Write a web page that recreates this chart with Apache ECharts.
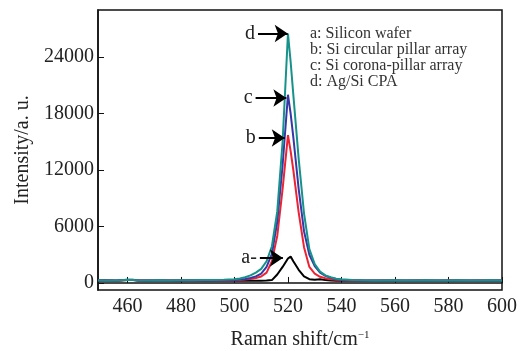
<!DOCTYPE html>
<html>
<head>
<meta charset="utf-8">
<script src="https://cdn.jsdelivr.net/npm/echarts@6/dist/echarts.min.js"></script>
<style>
  html, body { margin: 0; padding: 0; background: #fff; }
  #chart { width: 525px; height: 351px; }
</style>
</head>
<body>
<div id="chart"></div>
<script>
// Raman shift (cm^-1), shared by all four spectra
const shift = [449, 452, 456, 460, 462, 464, 468, 472, 476, 480, 484, 488, 492, 496, 500,
  502, 504, 506, 508, 510, 512, 514, 516, 518, 520, 521, 522, 524, 526, 528, 530, 532, 534, 536, 538, 540, 544,
  548, 552, 556, 560, 564, 568, 572, 576, 580, 584, 588, 592, 596, 600]

// a: Silicon wafer
const wafer = [260, 250, 240, 300, 330, 250, 240, 250, 230, 240, 250, 230, 240, 230, 220,
  230, 220, 230, 220, 230, 250, 300, 900, 1700, 2600, 2800, 2300, 1400, 700, 400, 330, 380, 300, 250, 220, 230, 240,
  230, 220, 230, 240, 230, 220, 240, 230, 230, 240, 220, 230, 240, 230]
// b: Si circular pillar array
const pillar = [250, 260, 240, 320, 300, 260, 250, 240, 260, 250, 240, 260, 250, 270, 290,
  320, 360, 420, 520, 680, 1100, 2300, 5000, 10000, 15700, 14000, 12000, 7500, 3800, 1700, 1000, 650, 500, 400, 340, 300, 270,
  250, 240, 260, 250, 240, 260, 250, 240, 250, 260, 240, 250, 260, 250]
// c: Si corona-pillar array
const corona = [260, 250, 250, 330, 310, 270, 250, 260, 250, 260, 250, 270, 260, 280, 320,
  360, 420, 520, 700, 1000, 1700, 3100, 6500, 12500, 20000, 18000, 15500, 10000, 5500, 3000, 1800, 1100, 750, 550, 420, 350, 290,
  260, 250, 270, 260, 250, 260, 270, 250, 260, 270, 250, 260, 270, 260]
// d: Ag/Si CPA
const agsi = [280, 270, 260, 340, 320, 290, 270, 280, 270, 280, 290, 300, 310, 340, 400,
  480, 600, 800, 1100, 1500, 2300, 3900, 7600, 15000, 26500, 23500, 20000, 13200, 7400, 3600, 2000, 1200, 800, 600, 450, 380, 320,
  280, 270, 260, 280, 270, 260, 280, 270, 260, 280, 270, 260, 280, 270]

const xTicks = [460, 480, 500, 520, 540, 560, 580, 600]
const yTicks = [0, 6000, 12000, 18000, 24000]

// arrows: label, start shift, tip shift, intensity
const arrows = [
  ['a-', 509.5, 518.1, 2650],
  ['b', 509.1, 518.8, 15400],
  ['c', 507.9, 519.4, 19650],
  ['d', 508.8, 519.9, 26500]
]

const legendLines = [
  'a: Silicon wafer',
  'b: Si circular pillar array',
  'c: Si corona-pillar array',
  'd: Ag/Si CPA'
]

const serif = '"Liberation Serif", "Times New Roman", serif'
const pair = arr => shift.map((x, i) => [x, arr[i]])

const chart = echarts.init(document.getElementById('chart'))

const mkLine = (name, data, color, extra) => Object.assign({
  name,
  type: 'line',
  data: pair(data),
  showSymbol: false,
  symbol: 'none',
  lineStyle: { color, width: 2 },
  itemStyle: { color },
  silent: true
}, extra || {})

const option = {
  animation: false,
  grid: {
    left: 98, right: 23, top: 10, bottom: 61,
    outerBoundsMode: 'none',
    show: true, borderColor: '#111', borderWidth: 1.5
  },
  xAxis: {
    type: 'value',
    min: 449,
    max: 600,
    name: 'Raman shift/cm{sup|−1}',
    nameLocation: 'middle',
    nameGap: 40,
    nameTextStyle: {
      fontFamily: serif, fontSize: 20, color: '#222',
      rich: { sup: { fontFamily: serif, fontSize: 11, color: '#222', verticalAlign: 'top', padding: [0, 0, 8, 0] } }
    },
    axisLine: { lineStyle: { color: '#111', width: 1.5 } },
    axisTick: { inside: true, length: 6, customValues: xTicks, lineStyle: { color: '#111' } },
    axisLabel: { customValues: xTicks, fontFamily: serif, fontSize: 20, color: '#222', margin: 7, formatter: v => String(v) },
    splitLine: { show: false }
  },
  yAxis: {
    type: 'value',
    min: -750,
    max: 29000,
    name: 'Intensity/a. u.',
    nameLocation: 'middle',
    nameGap: 60,
    nameTextStyle: { fontFamily: serif, fontSize: 20, color: '#222' },
    axisLine: { show: true, lineStyle: { color: '#111', width: 1.5 } },
    axisTick: { show: true, inside: true, length: 6, customValues: yTicks, lineStyle: { color: '#111' } },
    axisLabel: {
      customValues: yTicks, fontFamily: serif, fontSize: 20, color: '#222', margin: 4,
      padding: [4, 0, 0, 0], formatter: v => String(v)
    },
    splitLine: { show: false }
  },
  graphic: [{
    type: 'text',
    left: 310,
    top: 26,
    silent: true,
    style: {
      text: legendLines.join('\n'),
      font: '16px ' + serif,
      lineHeight: 16,
      fill: '#333'
    }
  }],
  series: [
    mkLine('a', wafer, '#000000'),
    mkLine('b', pillar, '#ec2333'),
    mkLine('c', corona, '#3737a6'),
    mkLine('d', agsi, '#16928a', {
      markLine: {
        silent: true,
        symbol: ['none', 'arrow'],
        symbolSize: 13,
        lineStyle: { color: '#000', width: 2, type: 'solid' },
        itemStyle: { color: '#000' },
        label: {
          show: true,
          position: 'start',
          formatter: '{b}',
          fontFamily: serif,
          fontSize: 20,
          color: '#222',
          distance: 3
        },
        data: arrows.map(a => [
          { name: a[0], coord: [a[1], a[3]], symbol: 'none' },
          { coord: [a[2], a[3]], symbol: 'arrow', symbolSize: 13 }
        ])
      }
    })
  ]
}

chart.setOption(option)
</script>
</body>
</html>
